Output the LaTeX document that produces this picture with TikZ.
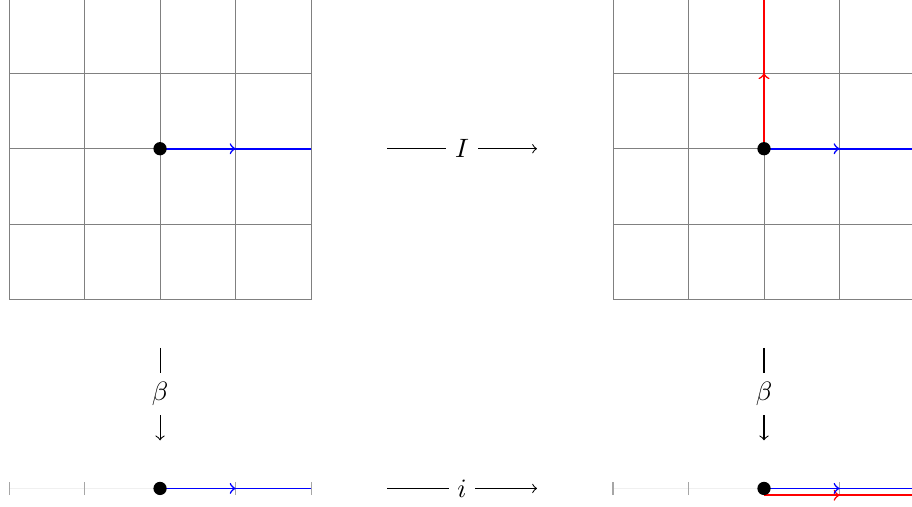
\documentclass[tikz,border=0pt]{standalone}
\usepackage{amsmath}
\usepackage{amssymb}
\usepackage{xcolor}
\usetikzlibrary{decorations.markings}

\tikzset{
  midarrow/.style={postaction={decorate},
    decoration={markings,mark=at position 0.5 with {\arrow{>}}}},
  basept/.style={circle,fill=black,inner sep=0pt,minimum size=5pt},
  panel/.style={inner sep=0pt,minimum size=4cm},
  axis/.style={inner sep=0pt,minimum width=4cm,minimum height=0pt},
  maplabel/.style={fill=white}
}

\begin{document}
\begin{tikzpicture}[>=to]
\useasboundingbox (-2.12,-4.74) rectangle (9.96,1.97);
% the two planes and the two lines
\node[panel] (planeL) at (0,0) {};
\node[panel] (planeR) at (8,0) {};
\node[axis] (lineL) at (0,-4.5) {};
\node[axis] (lineR) at (8,-4.5) {};
\draw[help lines] (-2,-2) grid (2,2);
\draw[help lines] (6,-2) grid (10,2);
\draw[gray!12,semithick] (lineL.west) -- (lineL.east);
\draw[gray!12,semithick] (lineR.west) -- (lineR.east);
\foreach \x in {-2,...,2} {
  \draw[gray!70] (\x,-4.59) -- (\x,-4.41);
  \draw[gray!70] (\x+8,-4.59) -- (\x+8,-4.41);
}
% paths
\draw[red,semithick,midarrow] (8,0) -- (8,2);
\draw[blue,semithick,midarrow] (0,0) -- (2,0);
\draw[blue,semithick,midarrow] (8,0) -- (10,0);
\draw[blue,semithick,midarrow] (0,-4.5) -- (2,-4.5);
\draw[red,semithick,midarrow] (8,-4.59) -- (10,-4.59);
\draw[blue,semithick,midarrow] (8,-4.5) -- (10,-4.5);
\node[basept] (oL) at (0,0) {};
\node[basept] (oR) at (8,0) {};
\node[basept] (bL) at (0,-4.5) {};
\node[basept] (bR) at (8,-4.5) {};
% maps
\draw[->,shorten <=1cm,shorten >=1cm] (planeL.east) -- node[maplabel] {$I$} (planeR.west);
\draw[->,shorten <=1cm,shorten >=1cm] (lineL.east) -- node[maplabel] {$i$} (lineR.west);
\draw[->,shorten <=0.63cm,shorten >=0.63cm] (planeL.south) -- node[maplabel] {$\beta$} (lineL.north);
\draw[->,shorten <=0.63cm,shorten >=0.63cm] (planeR.south) -- node[maplabel] {$\beta$} (lineR.north);
\end{tikzpicture}
\end{document}
